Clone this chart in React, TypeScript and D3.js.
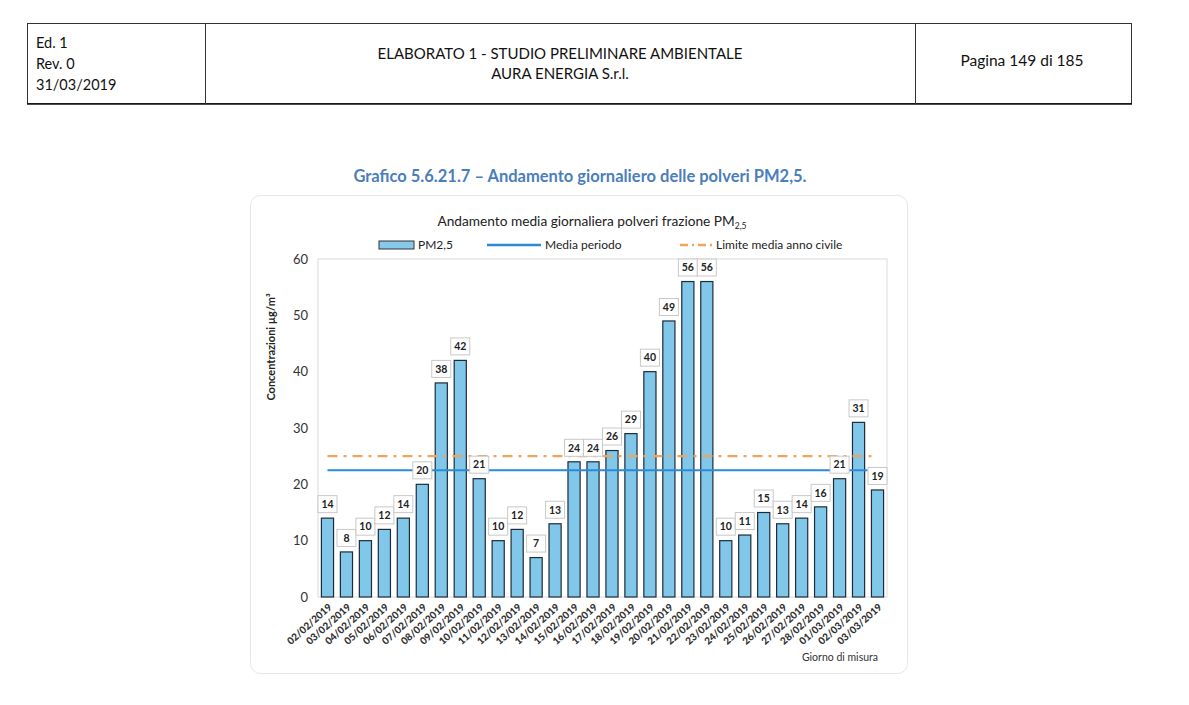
import { useEffect, useRef } from 'react'
import * as d3 from 'd3'

const dates = [
  '02/02/2019', '03/02/2019', '04/02/2019', '05/02/2019', '06/02/2019', '07/02/2019',
  '08/02/2019', '09/02/2019', '10/02/2019', '11/02/2019', '12/02/2019', '13/02/2019',
  '14/02/2019', '15/02/2019', '16/02/2019', '17/02/2019', '18/02/2019', '19/02/2019',
  '20/02/2019', '21/02/2019', '22/02/2019', '23/02/2019', '24/02/2019', '25/02/2019',
  '26/02/2019', '27/02/2019', '28/02/2019', '01/03/2019', '02/03/2019', '03/03/2019'
]
const pm25 = [14, 8, 10, 12, 14, 20, 38, 42, 21, 10, 12, 7, 13, 24, 24, 26, 29, 40, 49, 56, 56, 10, 11, 15, 13, 14, 16, 21, 31, 19]
const mediaPeriodo = 22.5
const limiteAnno = 25
const yTicks = [0, 10, 20, 30, 40, 50, 60]

const FONT = 'Lato, "Noto Sans", sans-serif'

export default function App() {
  const svgRef = useRef<SVGSVGElement>(null)

  useEffect(() => {
    if (!svgRef.current) return
    const svg = d3.select(svgRef.current)
    svg.selectAll('*').remove()

    // header table
    const head = svg.append('g').attr('font-family', FONT).attr('fill', '#111')
    head.append('rect').attr('x', 27.5).attr('y', 23.5).attr('width', 1104).attr('height', 80)
      .attr('fill', 'none').attr('stroke', '#333').attr('stroke-width', 1)
    head.append('line').attr('x1', 27).attr('x2', 1132).attr('y1', 104).attr('y2', 104)
      .attr('stroke', '#111').attr('stroke-width', 1.5)
    ;[205.5, 915.5].forEach(x => {
      head.append('line').attr('x1', x).attr('x2', x).attr('y1', 23).attr('y2', 104)
        .attr('stroke', '#333')
    })
    ;['Ed. 1', 'Rev. 0', '31/03/2019'].forEach((t, i) => {
      head.append('text').attr('x', 36).attr('y', 48 + i * 21).attr('font-size', 14.5).text(t)
    })
    head.append('text').attr('x', 560).attr('y', 59).attr('text-anchor', 'middle').attr('font-size', 15)
      .text('ELABORATO 1 - STUDIO PRELIMINARE AMBIENTALE')
    head.append('text').attr('x', 560).attr('y', 79).attr('text-anchor', 'middle').attr('font-size', 15)
      .text('AURA ENERGIA S.r.l.')
    head.append('text').attr('x', 1022).attr('y', 66).attr('text-anchor', 'middle').attr('font-size', 15.5)
      .text('Pagina 149 di 185')

    // caption
    svg.append('text').attr('x', 580).attr('y', 182).attr('text-anchor', 'middle')
      .attr('font-family', FONT).attr('font-size', 16.5).attr('font-weight', 700).attr('fill', '#4a7ebb')
      .text('Grafico 5.6.21.7 – Andamento giornaliero delle polveri PM2,5.')

    // chart frame
    svg.append('rect').attr('x', 250.5).attr('y', 195.5).attr('width', 657).attr('height', 478).attr('rx', 10)
      .attr('fill', '#fff').attr('stroke', '#e6e6e6')

    const margin = { left: 318, top: 259, right: 887, bottom: 597 }
    const x = d3.scaleBand().domain(dates).range([margin.left, margin.right]).paddingInner(0.36).paddingOuter(0.18)
    const y = d3.scaleLinear().domain([0, 60]).range([margin.bottom, margin.top])

    const g = svg.append('g').attr('font-family', FONT)

    // chart title
    const title = g.append('text').attr('x', 592).attr('y', 226).attr('text-anchor', 'middle')
      .attr('font-size', 13.7).attr('fill', '#222')
    title.append('tspan').text('Andamento media giornaliera polveri frazione PM')
    title.append('tspan').attr('font-size', 8.5).attr('dy', 3).text('2,5')

    // legend
    const lg = g.append('g').attr('font-size', 12).attr('fill', '#222')
    lg.append('rect').attr('x', 379).attr('y', 241).attr('width', 35).attr('height', 8)
      .attr('fill', '#87c9ea').attr('stroke', '#333')
    lg.append('text').attr('x', 418).attr('y', 249).text('PM2,5')
    lg.append('line').attr('x1', 487).attr('x2', 541).attr('y1', 245).attr('y2', 245)
      .attr('stroke', '#2b8ad6').attr('stroke-width', 2.5)
    lg.append('text').attr('x', 545).attr('y', 249).text('Media periodo')
    lg.append('line').attr('x1', 680).attr('x2', 713).attr('y1', 245).attr('y2', 245)
      .attr('stroke', '#f0a55c').attr('stroke-width', 2.5).attr('stroke-dasharray', '8,4,2,4')
    lg.append('text').attr('x', 716).attr('y', 249).text('Limite media anno civile')

    // plot border
    g.append('rect').attr('x', margin.left).attr('y', margin.top)
      .attr('width', margin.right - margin.left).attr('height', margin.bottom - margin.top)
      .attr('fill', 'none').attr('stroke', '#dcdcdc')

    // y axis
    const yAxis = g.append('g').attr('transform', `translate(${margin.left},0)`)
      .call(d3.axisLeft(y).tickValues(yTicks).tickSize(0).tickPadding(10))
    yAxis.select('.domain').remove()
    yAxis.selectAll('text').attr('font-family', FONT).attr('font-size', 13).attr('fill', '#333')

    g.append('text').attr('transform', 'translate(275,347) rotate(-90)')
      .attr('text-anchor', 'middle').attr('font-size', 11).attr('font-weight', 700).attr('fill', '#222')
      .text('Concentrazioni µg/m³')

    // bars
    g.selectAll('.bar').data(pm25).enter().append('rect').attr('class', 'bar')
      .attr('x', (_, i) => x(dates[i])!)
      .attr('y', d => y(d))
      .attr('width', x.bandwidth())
      .attr('height', d => y(0) - y(d))
      .attr('fill', '#80c7ea').attr('stroke', '#1e2b38').attr('stroke-width', 1.2)

    // reference lines
    const x0 = x(dates[0])! + x.bandwidth() / 2
    const x1 = x(dates[dates.length - 1])! + x.bandwidth() / 2
    g.append('line').attr('x1', x0).attr('x2', x1).attr('y1', y(limiteAnno)).attr('y2', y(limiteAnno))
      .attr('stroke', '#f0a55c').attr('stroke-width', 2.2).attr('stroke-dasharray', '10,6,3,6')
    g.append('line').attr('x1', x0).attr('x2', x1 - 10).attr('y1', y(mediaPeriodo)).attr('y2', y(mediaPeriodo))
      .attr('stroke', '#2b8ad6').attr('stroke-width', 2.2)

    // value labels
    const lbl = g.selectAll('.lbl').data(pm25).enter().append('g').attr('class', 'lbl')
      .attr('transform', (d, i) => `translate(${x(dates[i])! + x.bandwidth() / 2},${y(d) - 14})`)
    lbl.append('rect').attr('x', -9.5).attr('y', -8.5).attr('width', 19).attr('height', 17)
      .attr('fill', '#fff').attr('stroke', '#c8c8c8')
    lbl.append('text').attr('text-anchor', 'middle').attr('dy', '0.36em')
      .attr('font-size', 10.5).attr('font-weight', 700).attr('fill', '#222')
      .text(d => String(d))

    // x axis labels
    const xAxis = g.append('g').attr('transform', `translate(0,${margin.bottom})`)
      .call(d3.axisBottom(x).tickSize(0).tickPadding(0))
    xAxis.select('.domain').remove()
    xAxis.selectAll('text')
      .attr('font-family', FONT).attr('font-size', 10).attr('font-weight', 900).attr('fill', '#333')
      .attr('text-anchor', 'end').attr('dy', 0)
      .attr('transform', 'translate(5,11) rotate(-42)')

    g.append('text').attr('x', 878).attr('y', 661).attr('text-anchor', 'end')
      .attr('font-size', 10.5).attr('fill', '#333').text('Giorno di misura')
  }, [])

  return (
    <svg ref={svgRef} width={1189} height={705}
      style={{ position: 'absolute', left: 0, top: 0, background: '#fff' }} />
  )
}
